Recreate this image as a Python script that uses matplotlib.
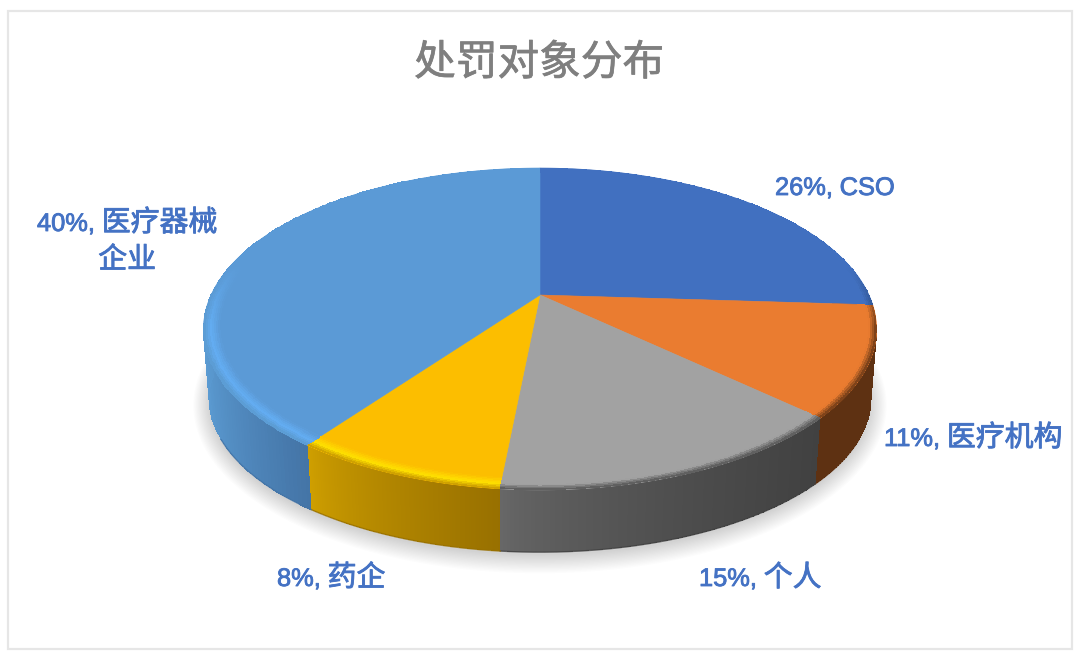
import numpy as np
import matplotlib
matplotlib.use('Agg')
import matplotlib.pyplot as plt
import matplotlib.patheffects as pe
from matplotlib.colors import to_rgb
from matplotlib.patches import Polygon, Rectangle

plt.rcParams['font.family'] = ['Liberation Sans', 'Noto Sans CJK SC', 'DejaVu Sans']

# data, clockwise from 12 o'clock
names = ['CSO', '医疗机构', '个人', '药企', '医疗器械\n企业']
values = [26.0, 11.0, 14.55, 8.45, 40.0]
title = '处罚对象分布'

# colours
top_colors = ['#4170c0', '#ea7c30', '#a2a2a2', '#fcbe00', '#5b9ad6']
side_left = ['#2b4a80', '#5e3112', '#686868', '#d0a000', '#5b9bd2']
side_right = ['#2b4a80', '#5e3112', '#414141', '#987000', '#4474a6']
bevel_mid = ['#4170c0', '#ea7c30', '#a2a2a2', '#ffe000', '#63adf2']
bevel_edge = ['#2b4a80', '#6e3a16', '#555555', '#c89800', '#5b9ad0']

# chart layout in pixels
label_left = [775, 884, 699, 277, 37]
label_base = [195, 446, 586, 586, 231]
apex_x, apex_y = 540, 295
persp, scale_x, scale_y = 0.211, 329, 153.8
drop, shrink_x, shrink_y = 72, 0.982, 0.95


def top_xy(theta, r=1.0):
    u, v = r * np.sin(theta), r * np.cos(theta)
    w = 1 + persp * v
    return apex_x + scale_x * u / w, apex_y - scale_y * v / w


def bottom_xy(theta):
    x, y = top_xy(theta)
    return apex_x + shrink_x * (x - apex_x), apex_y + drop + shrink_y * (y - apex_y)


def mix(a, b, t):
    a, b = np.array(to_rgb(a)), np.array(to_rgb(b))
    t = np.asarray(t)[..., None]
    return a * (1 - t) + b * t


def bold_text(x, y, s, size, color, stroke=0.6, **kw):
    t = ax.text(x, y, s, color=color, fontsize=size, va='baseline', zorder=6, **kw)
    t.set_path_effects([pe.withStroke(linewidth=stroke, foreground=color)])
    return t


fig = plt.figure(figsize=(10.8, 6.57), dpi=100)
ax = fig.add_axes([0, 0, 1, 1])
ax.set_xlim(0, 1080)
ax.set_ylim(657, 0)
ax.axis('off')

ax.add_patch(Rectangle((8, 11), 1064, 638, fill=False, ec='#e6e6e6', lw=1.6))
bold_text(539, 75, title, 30, '#7f7f7f', stroke=0.5, ha='center')

edges = np.radians(np.cumsum([0] + values) * 3.6)

# soft shadow under the pie
ring = np.linspace(0, 2 * np.pi, 300)
bx, by = bottom_xy(ring)
for i in range(15):
    grow = 1 + i * 0.0035
    sx = apex_x + (bx - apex_x) * grow
    sy = apex_y + drop + 3 + (by - apex_y - drop) * (1 + i * 0.007)
    ax.add_patch(Polygon(np.c_[sx, sy], fc='black', ec='none', alpha=0.011, zorder=1))

for i in range(len(values)):
    th = np.linspace(edges[i], edges[i + 1], 160)

    # side wall, shaded left to right, only on the part facing the viewer
    wall = th[np.cos(th) < 0.3]
    x0, y0 = top_xy(wall)
    x1, y1 = bottom_xy(wall)
    tuck = 3 * np.clip(-np.cos(wall) / 0.3, 0, 1)  # hide the seam under the bevel
    xs = np.vstack([x0, x1])
    ys = np.vstack([y0 - tuck + 0.5, y1])
    left, right = x0.min(), x0.max()
    pos = (0.5 * (x0[:-1] + x0[1:]) - left) / (right - left)
    ax.pcolormesh(xs, ys, mix(side_left[i], side_right[i], pos ** 0.7)[None, :, :], zorder=2)
    front = np.cos(wall) < -0.45
    ax.plot(x1[front], y1[front], color=side_right[i], lw=1.0, alpha=0.8, zorder=2.5)

    # flat top of the slice
    tx, ty = top_xy(th)
    pts = np.r_[[[apex_x, apex_y]], np.c_[tx, ty]]
    ax.add_patch(Polygon(pts, fc=top_colors[i], ec=top_colors[i], lw=0.4, zorder=3))

    # bevel along the front rim
    rows = np.linspace(0.952, 1.0, 9)
    bev_x = np.array([top_xy(th, r)[0] for r in rows])
    bev_y = np.array([top_xy(th, r)[1] for r in rows])
    mid_th = 0.5 * (th[:-1] + th[1:])
    fade = np.clip((0.2 - np.cos(mid_th)) / 0.4, 0, 1)[:, None]
    colors = np.zeros((len(rows) - 1, len(mid_th), 3))
    for j in range(len(rows) - 1):
        t = (j + 0.5) / (len(rows) - 1)
        if t < 0.55:
            c = mix(top_colors[i], bevel_mid[i], t / 0.55)
        else:
            c = mix(bevel_mid[i], bevel_edge[i], (t - 0.55) / 0.45)
        colors[j] = (1 - fade) * np.array(to_rgb(top_colors[i])) + fade * c
    ax.pcolormesh(bev_x, bev_y, colors, zorder=4)

# labels: the latin part is set smaller than the chinese part
fig.canvas.draw()
renderer = fig.canvas.get_renderer()
for name, val, lx, ly in zip(names, values, label_left, label_base):
    lines = name.split('\n')
    head = bold_text(lx, ly, f'{round(val)}%,', 18.3, '#4472c4', ha='left')
    end_x = head.get_window_extent(renderer).x1
    size = 18.3 if lines[0].isascii() else 20.8
    first = bold_text(end_x + 7, ly, lines[0], size, '#4472c4', ha='left')
    if len(lines) > 1:
        right = first.get_window_extent(renderer).x1
        bold_text((lx + right) / 2, ly + 37, lines[1], 20.8, '#4472c4', ha='center')

fig.savefig('out.png', dpi=100)
